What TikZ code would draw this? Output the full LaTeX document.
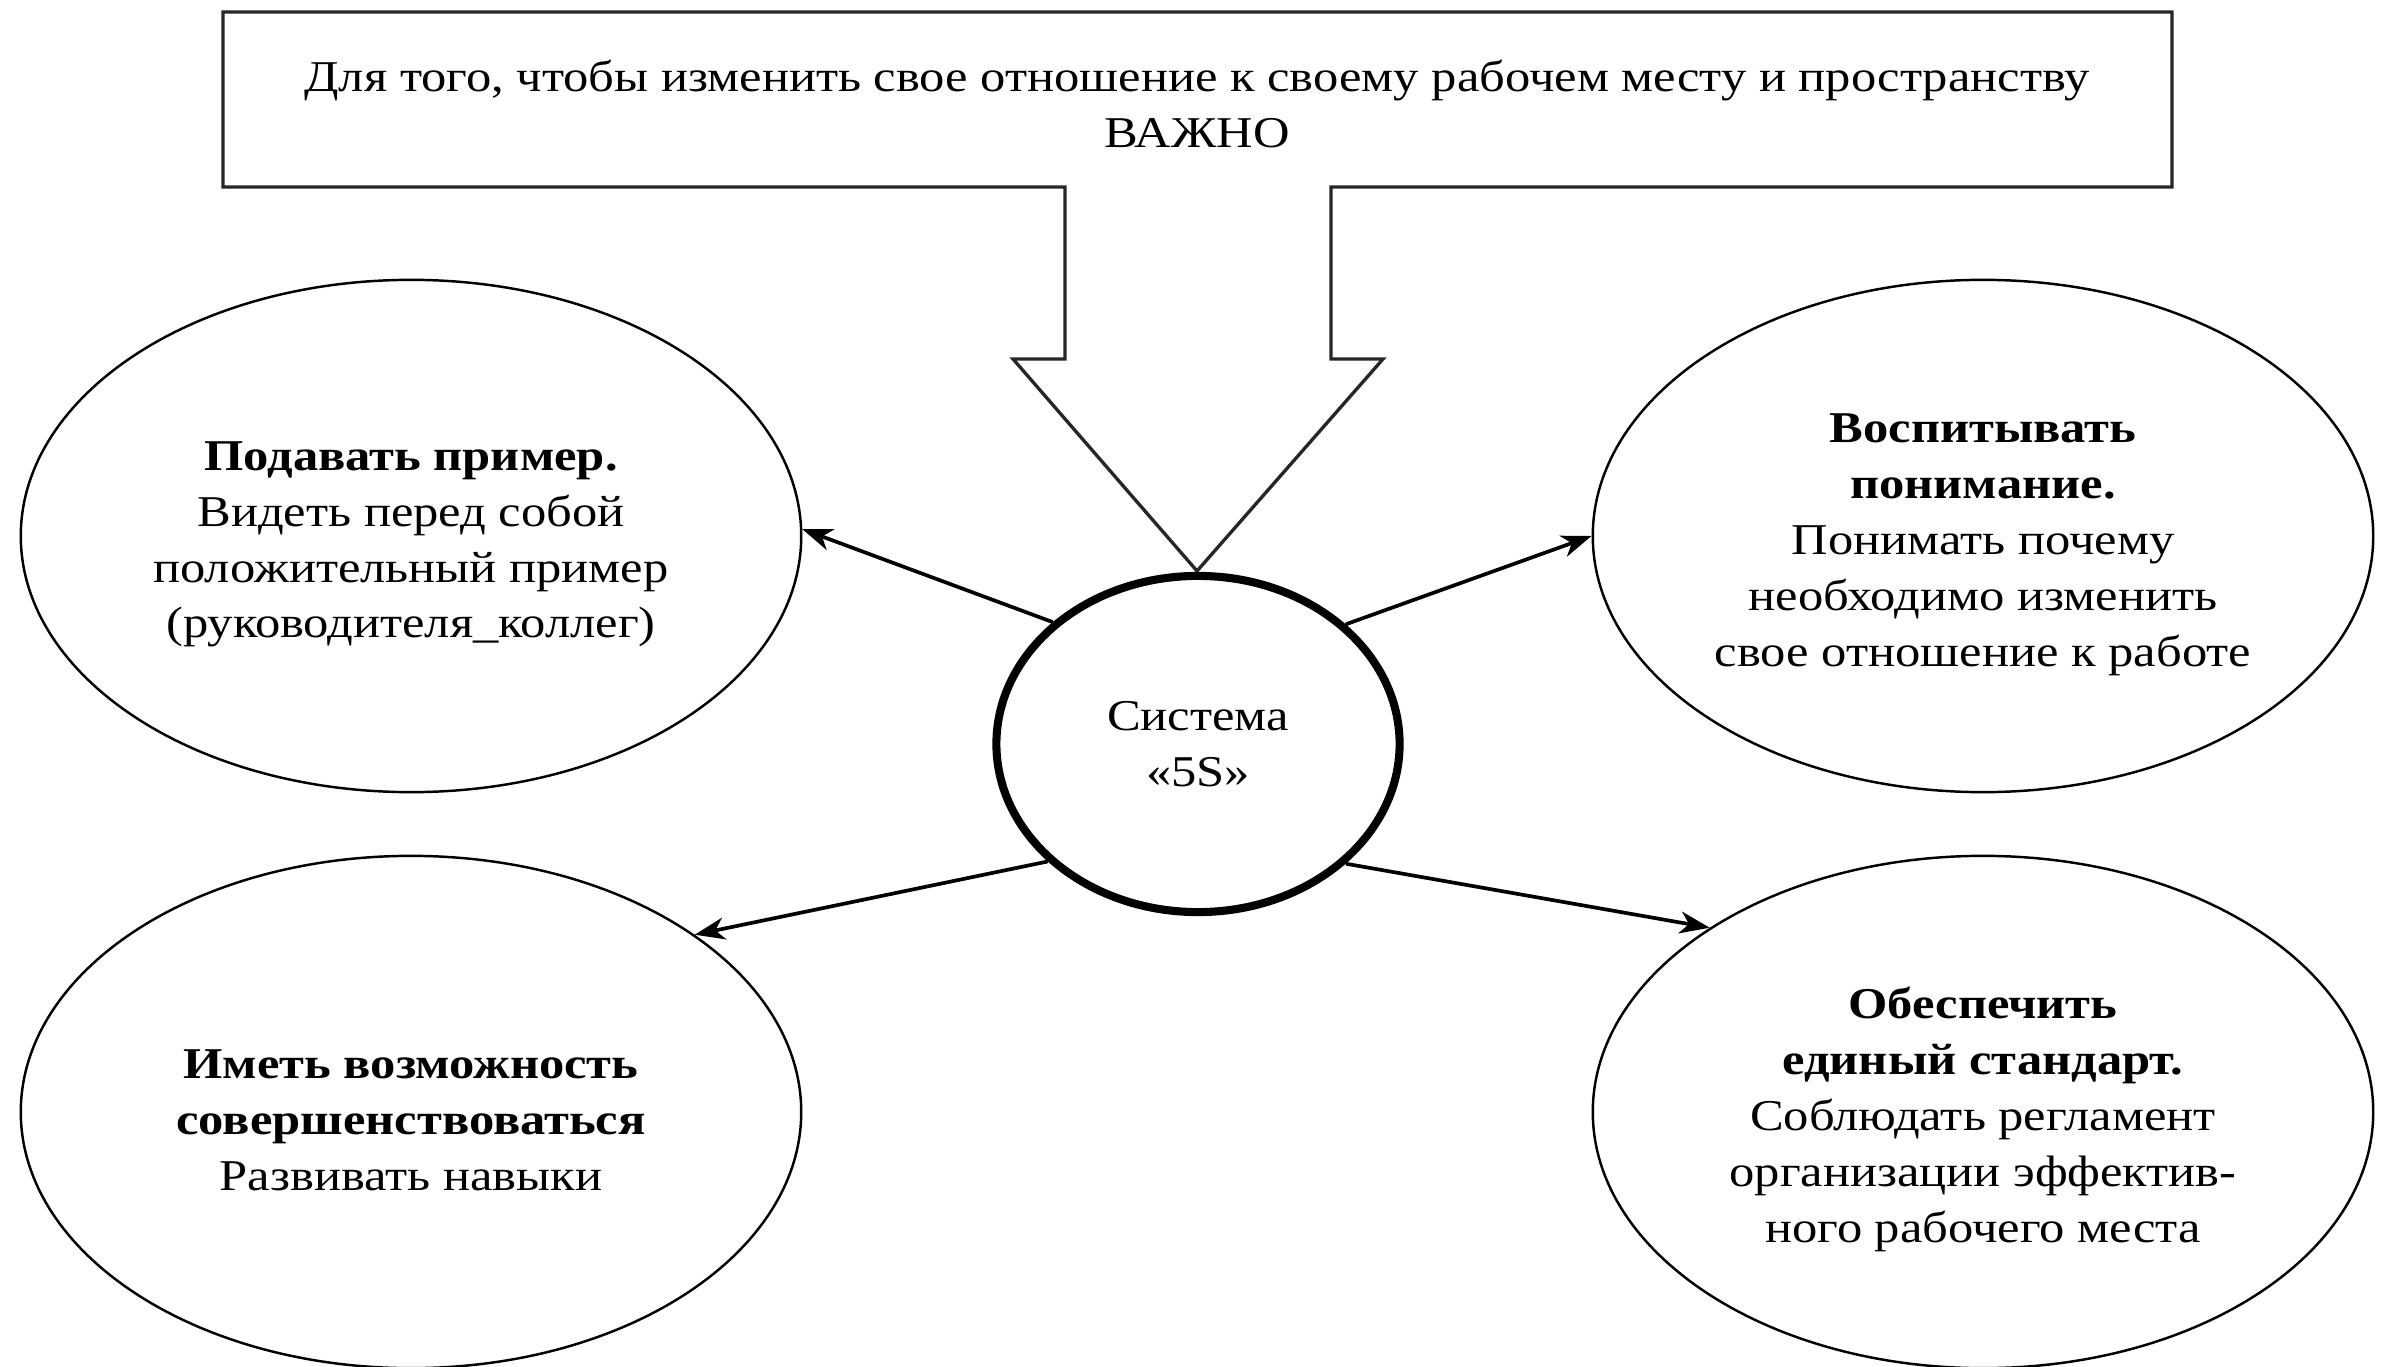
\documentclass[tikz,border=0pt]{standalone}
\usepackage{fontspec}
\setmainfont[FakeStretch=1.15]{Liberation Serif}
\usetikzlibrary{shapes.geometric,arrows.meta}
\begin{document}
\begin{tikzpicture}[x=0.01cm,y=-0.01cm,
  lbl/.style={font=\fontsize{12.5pt}{15.9pt}\selectfont, align=center},
  goal/.style={ellipse, draw, line width=0.7pt, minimum width=7.8cm, minimum height=5.12cm, inner sep=0pt, lbl},
  core/.style={ellipse, draw, line width=2.3pt, minimum width=4.03cm, minimum height=3.36cm, inner sep=0pt, lbl},
  link/.style={line width=1.05pt, -{Stealth[length=0.3cm,width=0.22cm,inset=0.09cm]}},
  banner/.style={draw=black!85, line width=0.95pt, line join=miter}
]
\useasboundingbox (0,0) rectangle (2382,1367);

% banner with downward arrow
\draw[banner] (223,12) -- (2172,12) -- (2172,187) -- (1331,187) -- (1331,359)
  -- (1383,359) -- (1197,571) -- (1013,359) -- (1065,359) -- (1065,187)
  -- (223,187) -- cycle;
\node[lbl] (head) at (1197,104) {Для того, чтобы изменить свое отношение к своему рабочем месту и пространству\\ВАЖНО};

% central ellipse
\node[core] (c) at (1198,744) {Система\\«5S»};

% goal ellipses
\node[goal] (tl) at (411,536) {\rule{0pt}{13pt}\textbf{Подавать пример.}\\Видеть перед собой\\положительный пример\\(руководителя\_коллег)};
\node[goal] (tr) at (1983,536) {\rule{0pt}{13pt}\textbf{Воспитывать}\\\textbf{понимание.}\\Понимать почему\\необходимо изменить\\свое отношение к работе};
\node[goal] (bl) at (411,1112) {\rule{0pt}{13pt}\textbf{Иметь возможность}\\\textbf{совершенствоваться}\\Развивать навыки};
\node[goal] (br) at (1983,1112) {\rule{0pt}{13pt}\textbf{Обеспечить}\\\textbf{единый стандарт.}\\Соблюдать регламент\\организации эффектив-\\ного рабочего места};

% connectors
\draw[link] (c.140.7) -- (tl.1);
\draw[link] (c.39.7) -- (tr.180);
\draw[link] (c.218.8) -- (bl.32.7);
\draw[link] (c.321.6) -- (br.146.9);
\end{tikzpicture}
\end{document}
